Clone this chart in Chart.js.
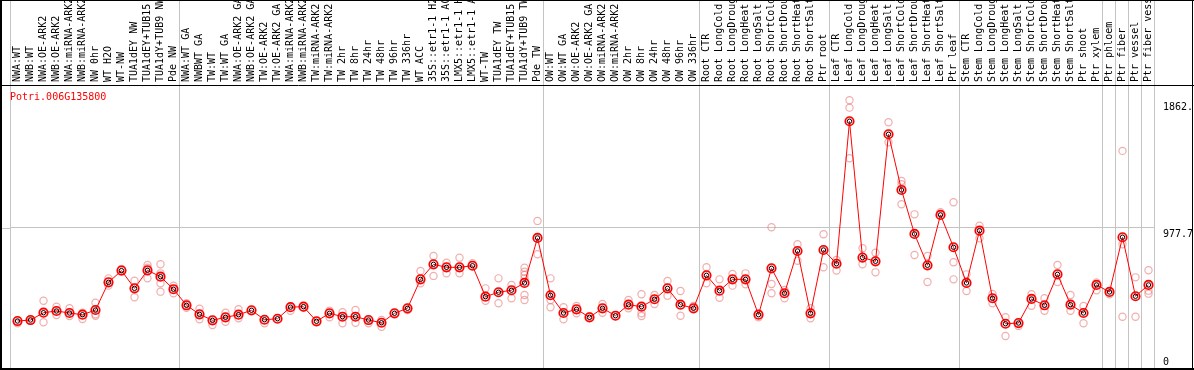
<!DOCTYPE html>
<html>
<head>
<meta charset="utf-8">
<script src="https://cdn.jsdelivr.net/npm/chart.js@4"></script>
<style>
  html, body { margin: 0; padding: 0; background: #fff; }
  #wrap { width: 1194px; height: 370px; position: relative; }
</style>
</head>
<body>
<div id="wrap"><canvas id="exprChart"></canvas></div>
<script>
/* ---------- data ---------- */
const TITLE = 'Potri.006G135800';

const SAMPLES = [
  'NWA:WT', 'NWB:WT', 'NWA:OE-ARK2', 'NWB:OE-ARK2', 'NWA:miRNA-ARK2', 'NWB:miRNA-ARK2',
  'NW 0hr', 'WT H2O', 'WT-NW', 'TUA1dEY NW', 'TUA1dEY+TUB15 NW', 'TUA1dY+TUB9 NW', 'Pde NW',
  'NWA:WT GA', 'NWBWT GA', 'TW:WT', 'TW:WT GA', 'NWA:OE-ARK2 GA', 'NWB:OE-ARK2 GA',
  'TW:OE-ARK2', 'TW:OE-ARK2 GA', 'NWA:miRNA-ARK2', 'NWB:miRNA-ARK2', 'TW:miRNA-ARK2', 'TW:miRNA-ARK2',
  'TW 2hr', 'TW 8hr', 'TW 24hr', 'TW 48hr', 'TW 96hr', 'TW 336hr', 'WT ACC',
  '35S::etr1-1 H2O', '35S::etr1-1 ACC', 'LMX5::etr1-1 H2O', 'LMX5::etr1-1 ACC',
  'WT-TW', 'TUA1dEY TW', 'TUA1dEY+TUB15 TW', 'TUA1dY+TUB9 TW', 'Pde TW',
  'OW:WT', 'OW:WT GA', 'OW:OE-ARK2', 'OW:OE-ARK2 GA', 'OW:miRNA-ARK2', 'OW:miRNA-ARK2',
  'OW 2hr', 'OW 8hr', 'OW 24hr', 'OW 48hr', 'OW 96hr', 'OW 336hr',
  'Root CTR', 'Root LongCold', 'Root LongDrought', 'Root LongHeat', 'Root LongSalt',
  'Root ShortCold', 'Root ShortDrought', 'Root ShortHeat', 'Root ShortSalt', 'Ptr root',
  'Leaf CTR', 'Leaf LongCold', 'Leaf LongDrought', 'Leaf LongHeat', 'Leaf LongSalt',
  'Leaf ShortCold', 'Leaf ShortDrought', 'Leaf ShortHeat', 'Leaf ShortSalt', 'Ptr leaf',
  'Stem CTR', 'Stem LongCold', 'Stem LongDrought', 'Stem LongHeat', 'Stem LongSalt',
  'Stem ShortCold', 'Stem ShortDrought', 'Stem ShortHeat', 'Stem ShortSalt', 'Ptr shoot',
  'Ptr xylem', 'Ptr phloem', 'Ptr fiber', 'Ptr vessel', 'Ptr fiber vessel'
];

// mean expression per sample
const MEANS = [
  328, 335, 386, 398, 384, 372, 405, 598, 680, 556, 682, 638, 550,
  438, 375, 333, 354, 372, 403, 337, 344, 425, 428, 326, 382, 358, 358, 335, 316, 382, 417,
  619, 724, 703, 703, 714, 498, 529, 543, 594, 908,
  508, 384, 410, 354, 417, 365, 442, 428, 480, 556, 442, 417,
  647, 540, 619, 619, 372, 696, 522, 817, 382, 824,
  728, 1723, 771, 745, 1632, 1243, 936, 717, 1069, 843,
  594, 959, 487, 309, 314, 482, 438, 654, 442, 384, 580,
  531, 913, 501, 580
];

// individual replicates per sample
const REPLICATES = [
  [328, 312], [335, 330], [470, 386, 319], [428, 398, 370], [417, 384, 363], [386, 372, 342],
  [456, 405, 375, 365], [626, 598, 575], [691, 680], [610, 556, 494], [719, 700, 682, 626],
  [724, 661, 638, 592, 533], [575, 550, 522],
  [452, 438, 421], [414, 375, 340], [333, 300], [386, 354, 323], [410, 372, 347], [403],
  [337, 312], [344], [426, 400], [428, 420], [326], [400, 382, 354], [389, 358, 312],
  [405, 358, 316], [335, 312], [335, 316, 288], [382], [417, 405],
  [677, 619, 592], [782, 724, 643], [735, 703, 661], [770, 703, 661], [731, 714],
  [556, 498, 470], [626, 529, 452], [580, 543, 487], [700, 672, 650, 626, 594, 510, 475],
  [1027, 908, 794],
  [626, 508, 475, 424], [424, 384, 340], [433, 410, 382], [354, 362], [447, 417, 386], [365],
  [475, 442, 417], [515, 428, 382, 363], [510, 480, 447], [608, 556, 505], [538, 442, 365],
  [433, 417],
  [703, 647, 592], [619, 540, 491], [656, 619, 575], [661, 619, 585], [372, 354],
  [983, 696, 587, 522], [545, 522, 487], [864, 817, 749], [417, 382, 347], [934, 824, 703],
  [754, 728, 680], [1870, 1818, 1723, 1465], [836, 771, 724], [805, 745, 668],
  [1716, 1632, 1576], [1306, 1283, 1243, 1143], [1073, 936, 789], [782, 717, 601],
  [1087, 1069], [1157, 843, 738, 619],
  [654, 594, 538], [994, 959, 906], [517, 487, 452], [354, 309, 223], [314, 293],
  [515, 482, 435], [487, 438, 400], [719, 654, 601], [510, 442, 400], [433, 384, 312],
  [598, 580, 543],
  [531, 515], [1516, 913, 864, 358], [633, 501, 358], [682, 580, 540, 519]
];

// sample indices where a new tissue / experiment group starts
const GROUP_BREAKS = [0, 13, 41, 53, 63, 73, 84, 85, 86, 87, 88];

const Y_MAX = 1976;
const Y_TICKS = [0, 977.7, 1862];
const Y_TICK_LABELS = ['0', '977.7', '1862.'];

/* ---------- styling ---------- */
const MONO = 'DejaVu Sans Mono';
const RED = '#ff0000';
const REP_COLOR = 'rgba(232,120,120,0.6)';
const SEP_COLOR = '#c4c4c4';

const maxReps = Math.max(...REPLICATES.map(r => r.length));
const repSets = [];
for (let j = 0; j < maxReps; j++) {
  repSets.push({
    type: 'line',
    label: 'rep' + (j + 1),
    data: REPLICATES.map(r => (j < r.length ? r[j] : null)),
    showLine: false,
    pointRadius: 3.6,
    pointBorderWidth: 1.2,
    pointBorderColor: REP_COLOR,
    pointBackgroundColor: 'rgba(0,0,0,0)',
    order: 3
  });
}

// frame, group separators and gene name
const framePlugin = {
  id: 'frame',
  beforeDatasetsDraw(chart) {
    const { ctx, chartArea, scales } = chart;
    const xs = scales.x;
    const half = xs.width / SAMPLES.length / 2;
    ctx.save();
    ctx.strokeStyle = SEP_COLOR;
    ctx.lineWidth = 1;
    GROUP_BREAKS.forEach(b => {
      const px = b < SAMPLES.length
        ? xs.getPixelForValue(b) - half
        : xs.getPixelForValue(SAMPLES.length - 1) + half;
      const x = Math.round(px) - 0.5;
      ctx.beginPath();
      ctx.moveTo(x, 0);
      ctx.lineTo(x, chart.height);
      ctx.stroke();
    });
    // extend the mid gridline to the left frame
    const gy = Math.round(scales.y.getPixelForValue(Y_TICKS[1])) + 0.5;
    ctx.beginPath();
    ctx.moveTo(2, gy);
    ctx.lineTo(chartArea.left, gy);
    ctx.stroke();
    ctx.restore();
  },
  afterDraw(chart) {
    const { ctx, chartArea, width, height } = chart;
    ctx.save();
    ctx.strokeStyle = '#000';
    ctx.lineWidth = 2;
    ctx.beginPath();
    ctx.moveTo(1, 0); ctx.lineTo(1, height);
    ctx.moveTo(0, height - 1); ctx.lineTo(width, height - 1);
    ctx.stroke();
    ctx.lineWidth = 1;
    ctx.beginPath();
    ctx.moveTo(0, 0.5); ctx.lineTo(width, 0.5);
    ctx.moveTo(width - 1.5, 0); ctx.lineTo(width - 1.5, height);
    ctx.moveTo(0, chartArea.top + 0.5); ctx.lineTo(width, chartArea.top + 0.5);
    ctx.stroke();
    ctx.fillStyle = RED;
    ctx.font = '10px "' + MONO + '"';
    ctx.textBaseline = 'middle';
    ctx.textAlign = 'left';
    ctx.fillText(TITLE, chartArea.left - 1, chartArea.top + 12);
    ctx.restore();
  }
};

const noPad = s => {
  s.paddingTop = 0; s.paddingBottom = 0;
  s.paddingLeft = 0; s.paddingRight = 0;
};

new Chart(document.getElementById('exprChart'), {
  type: 'line',
  data: {
    labels: SAMPLES,
    datasets: [
      {
        label: 'mean core',
        data: MEANS,
        showLine: false,
        pointRadius: 2.2,
        pointBorderWidth: 1,
        pointBorderColor: '#000',
        pointBackgroundColor: 'rgba(0,0,0,0)',
        order: 1
      },
      {
        label: 'mean',
        data: MEANS,
        borderColor: RED,
        borderWidth: 1,
        tension: 0,
        pointRadius: 4.3,
        pointBorderWidth: 1.6,
        pointBorderColor: RED,
        pointBackgroundColor: 'rgba(0,0,0,0)',
        order: 2
      },
      ...repSets
    ]
  },
  options: {
    responsive: true,
    maintainAspectRatio: false,
    animation: false,
    layout: { autoPadding: false, padding: { left: 11, right: 0, top: 0, bottom: 2 } },
    plugins: {
      legend: { display: false },
      tooltip: { enabled: false },
      title: { display: false }
    },
    scales: {
      x: {
        position: 'top',
        offset: true,
        grid: { display: false, drawTicks: false },
        border: { display: false },
        ticks: {
          autoSkip: false,
          minRotation: 90,
          maxRotation: 90,
          padding: 3,
          labelOffset: 12,
          color: '#000',
          font: { family: MONO, size: 10 }
        },
        afterFit: s => { s.height = 85; noPad(s); }
      },
      y: {
        position: 'right',
        min: 0,
        max: Y_MAX,
        afterBuildTicks: s => { s.ticks = Y_TICKS.map(v => ({ value: v })); },
        afterFit: s => { s.width = 39; noPad(s); },
        grid: {
          drawTicks: false,
          color: c => (c.tick && c.tick.value === Y_TICKS[1] ? SEP_COLOR : 'rgba(0,0,0,0)')
        },
        border: { display: false },
        ticks: {
          padding: 8,
          color: '#000',
          font: { family: MONO, size: 10, lineHeight: 1.2 },
          callback: (v, i) => {
            const lbl = Y_TICK_LABELS[i];
            return v === 0 ? [lbl, ''] : ['', lbl];
          }
        }
      }
    }
  },
  plugins: [framePlugin]
});
</script>
</body>
</html>
